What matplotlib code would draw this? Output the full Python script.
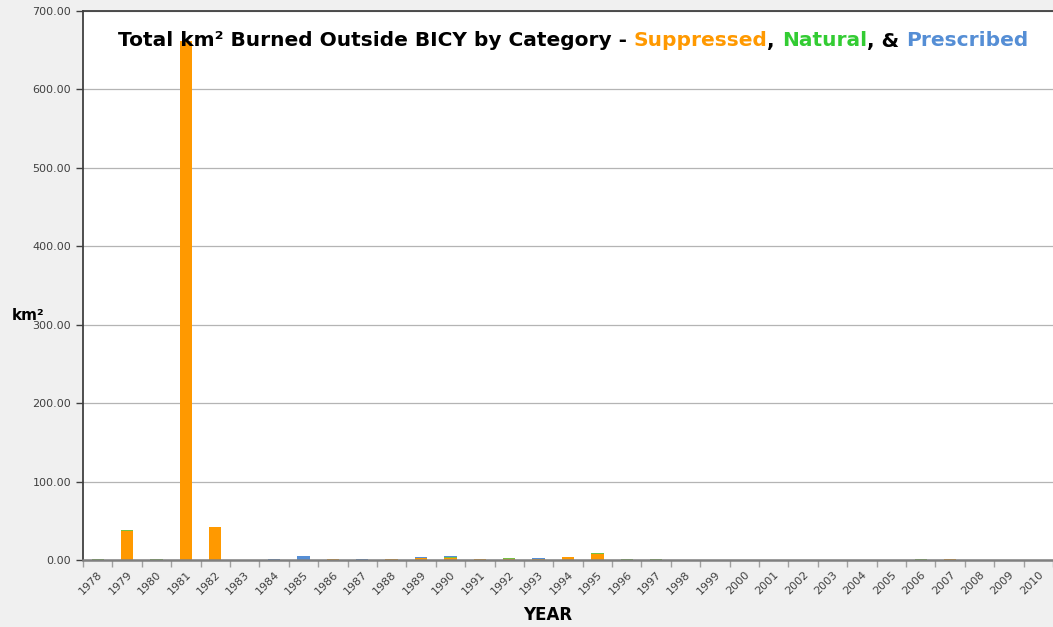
import numpy as np
import matplotlib.pyplot as plt

years = list(range(1978, 2011))
suppressed = [0, 37, 0, 662, 42, 0, 0.5, 0, 1.0, 0, 0.7, 3.0, 2.0, 1.5, 1.5, 1.0, 3.5, 7.5,
              0, 0, 0.6, 0.6, 0.6, 0.6, 0.6, 0, 0, 0.6, 0, 0.8, 0, 0, 0]
natural = [0.8, 0.7, 0.8, 0, 0, 0, 0, 0, 0, 0, 0, 0, 1.5, 0, 1.5, 0, 0, 1.0,
           0.8, 1.0, 0, 0, 0, 0, 0, 0, 0, 0, 0.8, 0, 0, 0, 0]
prescribed = [0, 0, 0, 0, 0, 0.6, 0.3, 5.0, 0, 1.5, 0, 1.0, 1.0, 0, 0, 1.0, 0, 0,
              0, 0, 0, 0, 0, 0, 0, 0, 0, 0, 0, 0, 0, 0, 0]

c_sup = '#ff9900'
c_nat = '#77c043'
c_pre = '#558ed5'

fig = plt.figure(figsize=(10.53, 6.27), dpi=100, facecolor='#f0f0f0')
ax = fig.add_axes([0.0788, 0.1069, 0.9212, 0.8756])
ax.set_facecolor('white')

x = np.arange(len(years))
s = np.array(suppressed)
n = np.array(natural)
p = np.array(prescribed)
w = 0.42
ax.bar(x, s, w, color=c_sup, zorder=3)
ax.bar(x, n, w, bottom=s, color=c_nat, zorder=3)
ax.bar(x, p, w, bottom=s + n, color=c_pre, zorder=3)

ax.set_xlim(-0.5, len(years) - 0.5)
ax.set_ylim(0, 700)
ax.set_yticks(np.arange(0, 701, 100))
ax.set_yticklabels(['%.2f' % v for v in np.arange(0, 701, 100)], fontsize=8, color='#404040')
ax.yaxis.grid(True, color='#b4b4b4', lw=0.9, zorder=0)
ax.tick_params(axis='y', length=5, color='#404040', width=1)

ax.set_xticks(x)
ax.set_xticklabels([str(y) for y in years], rotation=45, ha='right', rotation_mode='anchor',
                   fontsize=8, color='#404040')
ax.tick_params(axis='x', length=0, pad=7)
ax.set_xticks(np.arange(-0.5, len(years) + 0.5, 1), minor=True)
ax.tick_params(axis='x', which='minor', length=5, color='#a0a0a0', width=1)

ax.spines['right'].set_visible(False)
ax.spines['top'].set_color('#404040')
ax.spines['top'].set_linewidth(1.3)
ax.spines['left'].set_color('#404040')
ax.spines['left'].set_linewidth(1.3)
ax.spines['bottom'].set_color('#808080')
ax.spines['bottom'].set_linewidth(1.8)
ax.spines['bottom'].set_zorder(4)

fig.text(548 / 1053, 1 - 615 / 627, 'YEAR', fontsize=12, fontweight='bold', ha='center', va='center')
fig.text(28 / 1053, 1 - 315 / 627, 'km²', fontsize=11, fontweight='bold', ha='center', va='center')

# title pieces in different colours
pieces = [('Total km² Burned Outside BICY by Category - ', 'black'),
          ('Suppressed', c_sup), (', ', 'black'), ('Natural', '#33cc33'),
          (', & ', 'black'), ('Prescribed', c_pre)]
fig.canvas.draw()
r = fig.canvas.get_renderer()
texts = []
for txt, col in pieces:
    t = fig.text(0, 1 - 41 / 627, txt, color=col, fontsize=14.5, fontweight='bold',
                 va='center', ha='left')
    texts.append(t)
widths = [t.get_window_extent(renderer=r).width for t in texts]
xpos = 573 - sum(widths) / 2
for t, wd in zip(texts, widths):
    t.set_x(xpos / 1053)
    xpos += wd

fig.savefig('out.png', dpi=100, facecolor=fig.get_facecolor())
